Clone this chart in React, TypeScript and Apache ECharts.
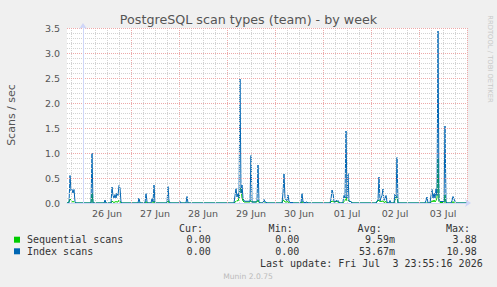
import React, { useEffect, useRef } from "react";
import * as echarts from "echarts";

// hours relative to 26 Jun 00:00, 30-minute samples
const idxData: [number, number][] = [
  [-8, 0], [-7, 0], [-6.5, 0.55], [-6, 0.24], [-5.5, 0.27], [-5, 0.2], [-4.5, 0.27], [-4, 0.03], [-3.5, 0],
  [4, 0], [4.5, 1.0], [5, 0],
  [10.5, 0], [11, 0.06], [11.5, 0],
  [14, 0], [14.5, 0.32], [15, 0.15], [15.5, 0.1], [16, 0.17], [16.5, 0.1], [17, 0.2], [17.5, 0.15], [18, 0.35], [18.5, 0.3], [19, 0.02], [19.5, 0],
  [27.5, 0], [28, 0.1], [28.5, 0],
  [31, 0], [31.5, 0.19], [32, 0.03], [32.5, 0],
  [34, 0], [34.5, 0.09], [35, 0.02], [35.5, 0.36], [36, 0],
  [42, 0], [42.5, 0.33], [43, 0.04], [43.5, 0],
  [48, 0], [48.5, 0.03], [49, 0],
  [51.5, 0], [52, 0.13], [52.5, 0],
  [75.5, 0], [76, 0.15], [76.5, 0.29], [77, 0.12], [77.5, 0.2], [78, 0.1], [78.5, 2.48], [79, 0.2], [79.5, 0.36], [80, 0.1], [80.5, 0.04], [81, 0.04], [81.5, 0.03], [82, 0.04], [82.5, 0.03], [83, 0.04], [83.5, 0.03], [84, 0.95], [84.5, 0.02], [85, 0.02], [85.5, 0.02], [86, 0.02], [86.5, 0.02], [87, 0.05], [87.5, 0.76], [88, 0.03], [88.5, 0],
  [90, 0], [90.5, 0.07], [91, 0.02], [91.5, 0.02], [92, 0],
  [99.5, 0], [100, 0.2], [100.5, 0.58], [101, 0.1], [101.5, 0.06], [102, 0.05], [102.5, 0.16], [103, 0.03], [103.5, 0.02], [104, 0], [104.5, 0.02], [105, 0],
  [109, 0], [109.5, 0.19], [110, 0.02], [110.5, 0.02], [111, 0], [111.5, 0.02], [112, 0.02], [112.5, 0],
  [123.5, 0], [124, 0.08], [124.5, 0.26], [125, 0.2], [125.5, 0.03], [126, 0.02], [126.5, 0.06], [127, 0.03], [127.5, 0.05], [128, 0.02], [128.5, 0], [129.5, 0], [130, 0.03], [130.5, 0.15], [131, 0.1], [131.5, 1.44], [132, 0.1], [132.5, 0.59], [133, 0.04], [133.5, 0.03], [134, 0.03], [134.5, 0],
  [146.5, 0], [147, 0.04], [147.5, 0.06], [148, 0.52], [148.5, 0.04], [149, 0.1], [149.5, 0.15], [150, 0.28], [150.5, 0.05], [151, 0.08], [151.5, 0.15], [152, 0.02], [152.5, 0], [153, 0], [153.5, 0.05], [154, 0],
  [155.5, 0], [156, 0.18], [156.5, 0.1], [157, 0.91], [157.5, 0],
  [171, 0], [171.5, 0.05], [172, 0.12], [172.5, 0],
  [173.5, 0], [174, 0.15], [174.5, 0.27], [175, 0.1], [175.5, 0.2], [176, 0.1], [176.5, 0.28], [177, 0.15], [177.5, 3.44], [178, 0.05], [178.5, 0.03], [179, 0.03], [179.5, 0.03], [180, 0.03], [180.5, 0.02], [181, 1.54], [181.5, 0.02], [182, 0],
  [184, 0], [184.5, 0.05], [185, 0.13], [185.5, 0.08], [186, 0.03], [186.5, 0], [192, 0],
];

const seqData: [number, number][] = [
  [-8, 0], [-7, 0.02], [-6.5, 0.08], [-6, 0.06], [-5.5, 0.03], [-5, 0.02], [-4.5, 0.03], [-4, 0.01], [-3.5, 0],
  [4, 0], [4.5, 0.2], [5, 0],
  [14, 0], [14.5, 0.04], [15, 0.02], [15.5, 0.01], [16, 0.02], [16.5, 0.03], [17, 0.02], [17.5, 0.02], [18, 0.06], [18.5, 0.04], [19, 0],
  [31, 0], [31.5, 0.03], [32, 0],
  [35, 0], [35.5, 0.04], [36, 0],
  [42, 0], [42.5, 0.05], [43, 0],
  [75.5, 0], [76, 0.02], [76.5, 0.03], [77, 0.05], [77.5, 0.04], [78, 0.1], [78.5, 0.27], [79, 0.3], [79.5, 0.1], [80, 0.04], [80.5, 0.02], [83.5, 0.02], [84, 0.06], [84.5, 0.02], [87, 0.02], [87.5, 0.06], [88, 0.01], [88.5, 0],
  [99.5, 0], [100, 0.06], [100.5, 0.05], [101, 0.02], [102, 0.02], [102.5, 0.03], [103, 0],
  [109, 0], [109.5, 0.03], [110, 0],
  [123.5, 0], [124, 0.02], [124.5, 0.04], [125, 0.03], [125.5, 0.02], [126, 0.02], [126.5, 0.04], [127, 0.02], [127.5, 0.03], [128, 0], [130, 0], [130.5, 0.03], [131, 0.05], [131.5, 0.12], [132, 0.04], [132.5, 0.06], [133, 0.03], [134, 0.03], [134.5, 0],
  [146.5, 0], [147, 0.02], [147.5, 0.06], [148, 0.04], [149, 0.03], [150, 0.04], [150.5, 0.01], [151.5, 0.03], [152, 0],
  [155.5, 0], [156, 0.05], [156.5, 0.13], [157, 0.12], [157.5, 0],
  [173.5, 0], [174, 0.02], [174.5, 0.05], [175, 0.02], [175.5, 0.06], [176, 0.02], [176.5, 0.05], [177, 0.1], [177.5, 0.89], [178, 0.03], [178.5, 0.01], [180, 0.01], [180.5, 0], [181, 0.16], [181.5, 0],
  [184.5, 0], [185, 0.03], [185.5, 0], [192, 0],
];

const dayLabels = ["26 Jun", "27 Jun", "28 Jun", "29 Jun", "30 Jun", "01 Jul", "02 Jul", "03 Jul"];
const dayLabelHours = [12, 36, 60, 84, 108, 132, 156, 180];
const yTicks = [0, 0.5, 1, 1.5, 2, 2.5, 3, 3.5];

const legendNames = ["Sequential scans", "Index scans"];
const legendColors = ["#00CC00", "#0066B3"];
const curVals = ["0.00", "0.00"];
const minVals = ["0.00", "0.00"];
const avgVals = ["9.59m", "53.67m"];
const maxVals = ["3.88", "10.98"];
const lastUpdate = "Last update: Fri Jul  3 23:55:16 2026";
const titleText = "PostgreSQL scan types (team) - by week";
const yName = "Scans / sec";

const X_MIN = -8;
const X_MAX = 192;

const MAJOR_GRID = "#EDA9A9";
const MINOR_GRID = "#D2D2D2";
const AXIS_COLOR = "#CFD6F8";

export default function App() {
  const ref = useRef<HTMLDivElement>(null);
  useEffect(() => {
    if (!ref.current) return;
    const chart = echarts.init(ref.current, null, { renderer: "svg" });
    const gridLines: any[] = [];
    for (let h = -6; h <= X_MAX; h += 6) {
      const major = h % 24 === 0;
      gridLines.push({
        xAxis: h,
        lineStyle: {
          color: major ? MAJOR_GRID : MINOR_GRID,
          type: [1, 1],
          width: 1,
        },
      });
    }
    const mono = "DejaVu Sans Mono";
    const txt = (text: string, x: number, y: number, align: string, extra: any = {}) => ({
      type: "text",
      x,
      y,
      silent: true,
      style: {
        text,
        fill: "#333",
        font: `10px '${mono}'`,
        textAlign: align,
        textVerticalAlign: "middle",
        ...extra,
      },
    });
    const graphics: any[] = [
      {
        type: "text",
        x: 248.5,
        y: 19,
        style: {
          text: titleText,
          fill: "#555",
          font: "12.7px 'DejaVu Sans'",
          textAlign: "center",
          textVerticalAlign: "middle",
        },
      },
      {
        type: "text",
        x: 11,
        y: 115,
        rotation: Math.PI / 2,
        style: {
          text: yName,
          fill: "#555",
          font: "11px 'DejaVu Sans'",
          textAlign: "center",
          textVerticalAlign: "middle",
        },
      },
      {
        type: "text",
        x: 490,
        y: 59,
        rotation: -Math.PI / 2,
        style: {
          text: "RRDTOOL / TOBI OETIKER",
          fill: "#c8c8c8",
          font: "6.8px 'DejaVu Sans'",
          textAlign: "center",
          textVerticalAlign: "middle",
        },
      },
      txt("Cur:", 203, 228, "right"),
      txt("Min:", 292.7, 228, "right"),
      txt("Avg:", 381.7, 228, "right"),
      txt("Max:", 470, 228, "right"),
      txt(lastUpdate, 482.7, 263.7, "right"),
      {
        type: "text",
        x: 248,
        y: 276,
        style: {
          text: "Munin 2.0.75",
          fill: "#bbb",
          font: "7.6px 'DejaVu Sans'",
          textAlign: "center",
          textVerticalAlign: "middle",
        },
      },
    ];
    legendNames.forEach((name, i) => {
      const y = 239.7 + i * 11.6;
      graphics.push({
        type: "rect",
        shape: { x: 14, y: y - 3, width: 6, height: 6 },
        style: { fill: legendColors[i] },
      });
      graphics.push(txt(name, 27, y, "left"));
      graphics.push(txt(curVals[i], 210.7, y, "right"));
      graphics.push(txt(minVals[i], 299.3, y, "right"));
      graphics.push(txt(avgVals[i], 395, y, "right"));
      graphics.push(txt(maxVals[i], 476.7, y, "right"));
    });

    chart.setOption({
      animation: false,
      backgroundColor: "#F0F0F0",
      grid: {
        left: 67,
        right: 30,
        top: 28,
        bottom: 84,
        show: true,
        backgroundColor: "#FFFFFF",
        borderWidth: 0,
      },
      xAxis: {
        type: "value",
        min: X_MIN,
        max: X_MAX,
        z: 10,
        axisLine: {
          show: true,
          onZero: false,
          lineStyle: { color: AXIS_COLOR, width: 1 },
          symbol: ["none", "arrow"],
          symbolSize: [6, 6],
          symbolOffset: [0, 4],
        },
        axisTick: { show: false },
        splitLine: { show: false },
        axisLabel: {
          customValues: dayLabelHours,
          formatter: (v: number) => dayLabels[dayLabelHours.indexOf(v)] ?? "",
          color: "#555",
          fontFamily: "DejaVu Sans",
          fontSize: 9.5,
          margin: 5,
        },
      },
      yAxis: {
        type: "value",
        min: 0,
        max: 3.5,
        interval: 0.5,
        z: 10,
        axisLine: {
          show: true,
          lineStyle: { color: AXIS_COLOR, width: 1 },
          symbol: ["none", "arrow"],
          symbolSize: [6, 6],
          symbolOffset: [0, 5],
        },
        axisTick: { show: false },
        axisLabel: {
          color: "#555",
          fontFamily: "DejaVu Sans",
          fontSize: 9.5,
          margin: 7,
          formatter: (v: number) => (yTicks.includes(v) ? v.toFixed(1) : ""),
        },
        splitLine: {
          show: true,
          lineStyle: { color: MAJOR_GRID, type: [1, 1], width: 1 },
        },
        minorTick: { show: false, splitNumber: 5 },
        minorSplitLine: {
          show: true,
          lineStyle: { color: MINOR_GRID, type: [1, 1], width: 1 },
        },
      },
      series: [
        {
          type: "line",
          data: [[X_MIN, 0]],
          showSymbol: false,
          lineStyle: { opacity: 0 },
          silent: true,
          z: 1,
          markLine: {
            silent: true,
            symbol: ["none", "none"],
            label: { show: false },
            data: gridLines,
          },
        },
        {
          name: legendNames[0],
          type: "line",
          data: seqData,
          showSymbol: false,
          z: 2,
          lineStyle: { color: legendColors[0], width: 1 },
          itemStyle: { color: legendColors[0] },
        },
        {
          name: legendNames[1],
          type: "line",
          data: idxData,
          showSymbol: false,
          z: 3,
          lineStyle: { color: legendColors[1], width: 1 },
          itemStyle: { color: legendColors[1] },
        },
      ],
      graphic: graphics,
    });
    return () => chart.dispose();
  }, []);
  return (
    <div
      ref={ref}
      style={{ position: "fixed", left: 0, top: 0, width: 497, height: 287 }}
    />
  );
}
